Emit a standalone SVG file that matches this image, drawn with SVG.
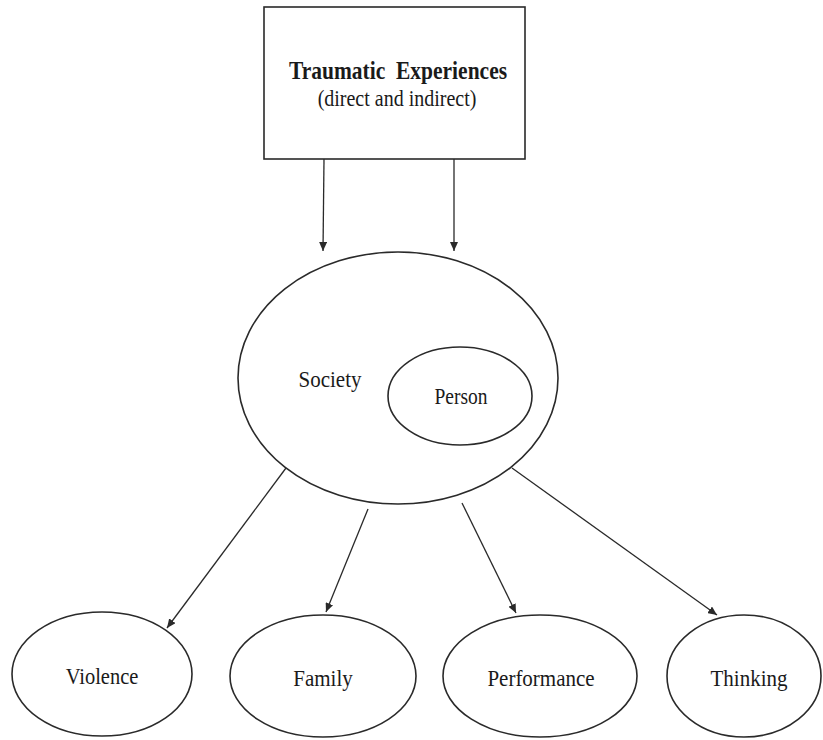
<svg xmlns="http://www.w3.org/2000/svg" width="823" height="740" viewBox="0 0 823 740">
<style>
.shape{fill:#fff;stroke:#2a2a2a;stroke-width:1.6}
.conn{fill:none;stroke:#2a2a2a;stroke-width:1.3}
.lbl{font-family:"Liberation Serif","Times New Roman",serif;fill:#1a1a1a;text-anchor:middle}
</style>
<defs>
<marker id="ah" markerUnits="userSpaceOnUse" markerWidth="10" markerHeight="8" refX="9" refY="4" orient="auto">
<path d="M0,0 L9,4 L0,8 Z" fill="#2a2a2a"/>
</marker>
</defs>
<rect width="823" height="740" fill="#fff"/>
<g id="traumatic">
<rect class="shape" x="264" y="7" width="261" height="152"/>
<text class="lbl" xml:space="preserve" transform="translate(398,79) scale(1,1.14)" font-size="21.5" font-weight="bold">Traumatic  Experiences</text>
<text class="lbl" transform="translate(397,106) scale(1,1.14)" font-size="20">(direct and indirect)</text>
</g>
<g id="society">
<ellipse class="shape" cx="398" cy="378" rx="160" ry="126"/>
<text class="lbl" transform="translate(330,387) scale(1,1.14)" font-size="21">Society</text>
</g>
<g id="person">
<ellipse class="shape" cx="460" cy="396" rx="72" ry="49"/>
<text class="lbl" transform="translate(461,404) scale(1,1.14)" font-size="19.5">Person</text>
</g>
<g id="violence">
<ellipse class="shape" cx="102" cy="674" rx="90" ry="62"/>
<text class="lbl" transform="translate(102,684) scale(1,1.14)" font-size="20.5">Violence</text>
</g>
<g id="family">
<ellipse class="shape" cx="323" cy="676" rx="93" ry="61"/>
<text class="lbl" transform="translate(323,686) scale(1,1.14)" font-size="21">Family</text>
</g>
<g id="performance">
<ellipse class="shape" cx="540" cy="676" rx="97" ry="61"/>
<text class="lbl" transform="translate(541,686) scale(1,1.14)" font-size="21">Performance</text>
</g>
<g id="thinking">
<ellipse class="shape" cx="744" cy="676" rx="77" ry="61"/>
<text class="lbl" transform="translate(749,686) scale(1,1.14)" font-size="21">Thinking</text>
</g>
<g id="connectors">
<line class="conn" x1="324" y1="159" x2="323" y2="251" marker-end="url(#ah)"/>
<line class="conn" x1="454" y1="159" x2="454" y2="251" marker-end="url(#ah)"/>
<line class="conn" x1="286" y1="468" x2="167" y2="628" marker-end="url(#ah)"/>
<line class="conn" x1="368" y1="509" x2="326" y2="612" marker-end="url(#ah)"/>
<line class="conn" x1="462" y1="503" x2="516" y2="613" marker-end="url(#ah)"/>
<line class="conn" x1="512" y1="468" x2="717" y2="615" marker-end="url(#ah)"/>
</g>
</svg>
